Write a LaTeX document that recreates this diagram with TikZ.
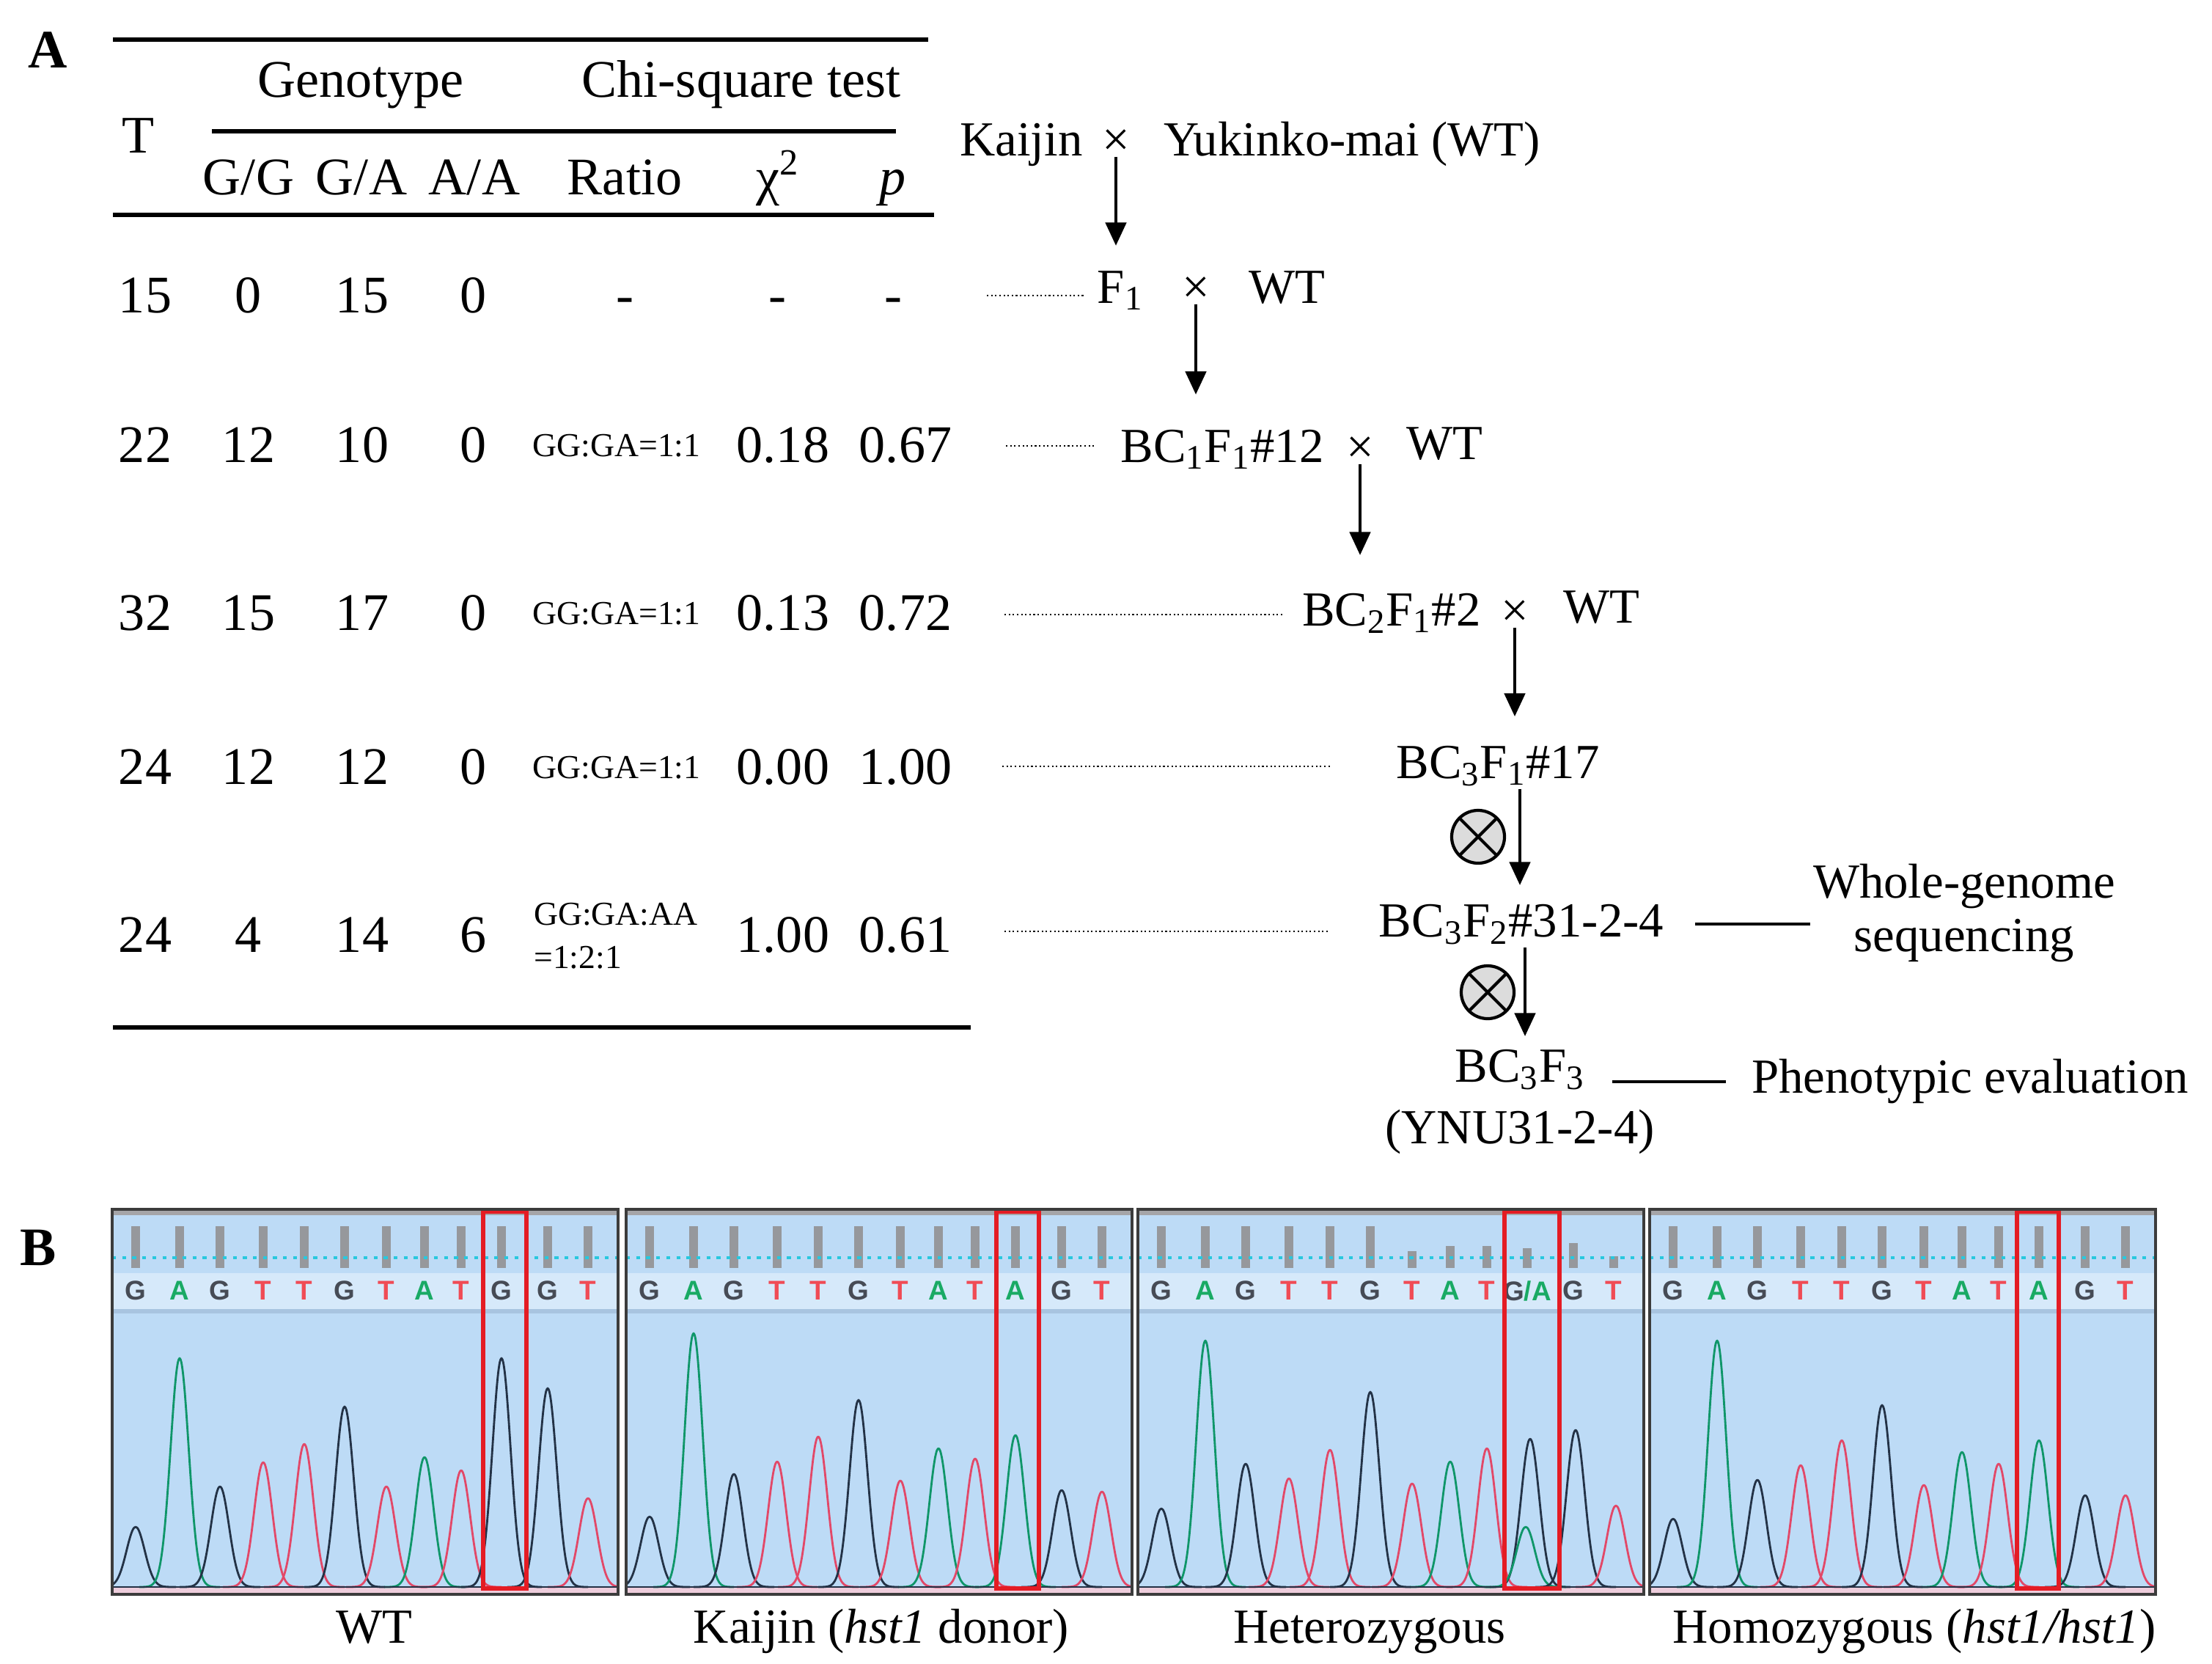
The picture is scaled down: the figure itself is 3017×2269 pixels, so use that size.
\documentclass[tikz,border=0pt]{standalone}
\usepackage{fontspec}
\setmainfont{Liberation Serif}
\setsansfont{Liberation Sans}
\usepackage{tikz}
\usetikzlibrary{
    arrows.meta            % Triangle tips on the pedigree arrows
}
\definecolor{LightGray}{RGB}{220,220,220}
\definecolor{PanelBlue}{RGB}{189,219,246}
\definecolor{BandBlue}{RGB}{214,233,250}
\definecolor{SepBlue}{RGB}{168,196,224}
\definecolor{StripGray}{RGB}{165,165,168}
\definecolor{BarGray}{RGB}{150,152,156}
\definecolor{DotCyan}{RGB}{40,200,222}
\definecolor{BoxRed}{RGB}{228,28,36}
\definecolor{FrameGray}{RGB}{60,60,60}
\definecolor{PinkBand}{RGB}{238,205,220}
\definecolor{trG}{RGB}{35,50,70}
\definecolor{trA}{RGB}{15,150,105}
\definecolor{trT}{RGB}{226,72,104}
\definecolor{lG}{RGB}{70,75,85}
\definecolor{lA}{RGB}{25,170,100}
\definecolor{lT}{RGB}{240,75,85}
\tikzset{table cell/.style={
    anchor=base,
    inner sep=0pt,
    font=\fontsize{20.5}{24}\selectfont
}}
\tikzset{ratio cell/.style={
    anchor=base,
    inner sep=0pt,
    font=\fontsize{13}{16.8}\selectfont
}}
\tikzset{table rule/.style={
    line width=1.6pt
}}
\tikzset{panel tag/.style={
    anchor=base,
    inner sep=0pt,
    font=\bfseries\fontsize{21}{24}\selectfont
}}
\tikzset{gen label/.style={
    anchor=base,
    inner sep=1pt,
    font=\fontsize{19}{22}\selectfont
}}
\tikzset{cross mark/.style={
    inner sep=0pt,
    font=\fontsize{19}{22}\selectfont
}}
\tikzset{gen arrow/.style={
    -{Triangle[width=8pt,length=9pt]},
    line width=1.3pt
}}
\tikzset{dot leader/.style={
    densely dotted,
    line width=0.6pt
}}
\tikzset{lead line/.style={
    line width=1.3pt
}}
\tikzset{selfing/.style={
    circle,
    draw,
    line width=1.2pt,
    fill=LightGray,
    minimum size=0.72cm,
    inner sep=0pt,
    path picture={
        \draw[line width=1.2pt] (path picture bounding box.north west) -- (path picture bounding box.south east);
        \draw[line width=1.2pt] (path picture bounding box.north east) -- (path picture bounding box.south west);
    }
}}
\tikzset{base letter/.style={
    inner sep=0pt,
    font=\sffamily\bfseries\fontsize{10.5}{10.5}\selectfont
}}
\tikzset{seq bar/.style={draw=BarGray, line width=3.3pt}}
\tikzset{cyan dots/.style={draw=DotCyan, line width=1pt, dash pattern=on 1.5pt off 2.4pt}}
\tikzset{trace/.style={line width=0.8pt, line join=round}}
\tikzset{base trace/.style={draw=trG, line width=0.7pt}}
\tikzset{snp box/.style={draw=BoxRed, line width=1.5pt}}
\tikzset{panel frame/.style={draw=FrameGray, line width=1pt}}

% sequence G A G T T G T A T [x] G T, x = 531
\newcommand{\seqlist}{32/G,92/A,147/G,206/T,262/T,317/G,374/T,426/A,476/T,594/G,649/T}
\newcommand{\fullbars}{32/1672,92/1672,147/1672,206/1672,262/1672,317/1672,374/1672,426/1672,476/1672,531/1672,594/1672,649/1672}
\newcommand{\hetbars}{32/1672,92/1672,147/1672,206/1672,262/1672,317/1672,374/1706,426/1699,476/1699,531/1702,594/1695,649/1713}
\newcommand{\peaksWT}{32/82/G,92/312/A,147/137/G,206/170/T,262/195/T,317/246/G,374/137/T,426/177/A,476/159/T,531/312/G,594/271/G,649/121/T}
\newcommand{\peaksKai}{32/96/G,92/346/A,147/154/G,206/171/T,262/205/T,317/255/G,374/145/T,426/189/A,476/175/T,531/207/A,594/132/G,649/130/T}
\newcommand{\peaksHet}{32/107/G,92/336/A,147/168/G,206/148/T,262/187/T,317/266/G,374/141/T,426/171/A,476/189/T,535/202/G,529/82/A,597/214/G,652/111/T}
\newcommand{\peaksHom}{32/93/G,92/336/A,147/146/G,206/166/T,262/200/T,317/248/G,374/139/T,426/184/A,476/168/T,531/200/A,594/125/G,649/125/T}

% #1 left edge, #2 name, #3 letter at the SNP, #4 peaks, #5 bars, #6/#7 red box
\newcommand{\chromat}[7]{%
  \begin{scope}[shift={(#1,0)}]
    \fill[PanelBlue] (0,1649) rectangle (690,2174);
    \fill[BandBlue] (0,1736) rectangle (690,1785);
    \fill[SepBlue] (0,1785) rectangle (690,1791);
    \fill[StripGray] (0,1649) rectangle (690,1657);
    \foreach \px/\pt in #5 {\draw[seq bar] (\px,\pt) -- (\px,1729);}
    \draw[cyan dots] (0,1715) -- (690,1715);
    \foreach \px/\pb in \seqlist {\node[base letter, text=l\pb] (#2-\px) at (\px,1760) {\pb};}
    \node[base letter] (#2-snp) at (531,1760) {#3};
    \fill[PinkBand] (0,2164) rectangle (690,2172);
    \begin{scope}
      \clip (0,1649) rectangle (690,2174);
      \foreach \px/\ph/\pb in #4 {
        \draw[trace, draw=tr\pb] plot[domain=\px-55:\px+55, samples=51, smooth]
          (\x, {2164-\ph*exp(-((\x-\px)/17.5)*((\x-\px)/17.5))});
      }
    \end{scope}
    \draw[base trace] (0,2164) -- (690,2164);
    \draw[snp box] (#6,1652) rectangle (#7,2166);
    \draw[panel frame] (0,1649) rectangle (690,2174);
  \end{scope}}

\begin{document}
\begin{tikzpicture}[x=0.01cm, y=-0.01cm]
    \useasboundingbox (0,0) rectangle (3017,2269);

    % panel A, segregation table
    \node[panel tag] (tagA) at (65,92) {A};
    \draw[table rule] (154,54) -- (1266,54);
    \draw[table rule] (289,179) -- (1222,179);
    \draw[table rule] (154,293) -- (1274,293);
    \draw[table rule] (154,1401) -- (1324,1401);

    \node[table cell] (hdrT) at (189,208) {T};
    \node[table cell] (hdrGeno) at (492,132) {Genotype};
    \node[table cell] (hdrChi) at (1011,132) {Chi-square test};
    \node[table cell] (hdrGG) at (339,265) {G/G};
    \node[table cell] (hdrGA) at (493,265) {G/A};
    \node[table cell] (hdrAA) at (647,265) {A/A};
    \node[table cell] (hdrRatio) at (852,265) {Ratio};
    \node[table cell] (hdrChiSq) at (1061,265) {χ\textsuperscript{2}};
    \node[table cell] (hdrP) at (1218,265) {\textit{p}};

    \node[table cell] (T1) at (198,426) {15};
    \node[table cell] (GG1) at (339,426) {0};
    \node[table cell] (GA1) at (494,426) {15};
    \node[table cell] (AA1) at (646,426) {0};
    \node[table cell] (R1) at (852,426) {-};
    \node[table cell] (C1) at (1060,426) {-};
    \node[table cell] (P1) at (1218,426) {-};
    \foreach \rw/\yb/\nt/\ngg/\nga/\naa/\chisq/\pv in
        {2/630/22/12/10/0/0.18/0.67, 3/859/32/15/17/0/0.13/0.72,
         4/1069/24/12/12/0/0.00/1.00, 5/1298/24/4/14/6/1.00/0.61}{
      \node[table cell] (T\rw) at (198,\yb) {\nt};
      \node[table cell] (GG\rw) at (339,\yb) {\ngg};
      \node[table cell] (GA\rw) at (494,\yb) {\nga};
      \node[table cell] (AA\rw) at (646,\yb) {\naa};
      \node[table cell] (C\rw) at (1068,\yb) {\chisq};
      \node[table cell] (P\rw) at (1235,\yb) {\pv};
    }
    \node[ratio cell] (R2) at (841,622) {GG:GA=1:1};
    \node[ratio cell] (R3) at (841,851) {GG:GA=1:1};
    \node[ratio cell] (R4) at (841,1061) {GG:GA=1:1};
    \node[ratio cell, anchor=center, align=left] (R5) at (840,1276) {GG:GA:AA\\=1:2:1};

    % backcross pedigree
    \node[gen label] (kaijin) at (1393,212) {Kaijin};
    \node[cross mark] (x0) at (1522,195) {×};
    \node[gen label] (yuki) at (1844,212) {Yukinko-mai (WT)};
    \node[gen label] (f1) at (1528,413) {F\textsubscript{1}};
    \node[cross mark] (x1) at (1631,396) {×};
    \node[gen label] (wt1) at (1755,413) {WT};
    \node[gen label] (bc1) at (1667,630) {BC\textsubscript{1}F\textsubscript{1}\#12};
    \node[cross mark] (x2) at (1855,614) {×};
    \node[gen label] (wt2) at (1970,626) {WT};
    \node[gen label] (bc2) at (1898,853) {BC\textsubscript{2}F\textsubscript{1}\#2};
    \node[cross mark] (x3) at (2066,837) {×};
    \node[gen label] (wt3) at (2184,849) {WT};
    \node[gen label] (bc3a) at (2043,1061) {BC\textsubscript{3}F\textsubscript{1}\#17};
    \node[gen label] (bc3b) at (2075,1277) {BC\textsubscript{3}F\textsubscript{2}\#31-2-4};
    \node[gen label] (bc3c) at (2073,1475) {BC\textsubscript{3}F\textsubscript{3}};
    \node[gen label] (ynu) at (2073,1559) {(YNU31-2-4)};
    \node[gen label, anchor=center, align=center, font=\fontsize{19}{20.7}\selectfont] (wgs) at (2679,1245) {Whole-genome\\sequencing};
    \node[gen label] (pheno) at (2687,1490) {Phenotypic evaluation};
    \node[selfing] (self1) at (2016,1141) {};
    \node[selfing] (self2) at (2029,1353) {};

    \coordinate (a1) at (1522,335);
    \coordinate (a2) at (1631,538);
    \coordinate (a3) at (1855,757);
    \coordinate (a4) at (2066,977);
    \coordinate (a5) at (2073,1207);
    \coordinate (a6) at (2080,1413);
    \draw[gen arrow] (x0) -- (a1);
    \draw[gen arrow] (x1) -- (a2);
    \draw[gen arrow] (x2) -- (a3);
    \draw[gen arrow] (x3) -- (a4);
    \draw[gen arrow] (bc3a.south -| a5) -- (a5);
    \draw[gen arrow] (bc3b.south -| a6) -- (a6);

    % dotted leaders from the table rows
    \coordinate (d1a) at (1346,403);  \coordinate (d1b) at (1478,403);
    \coordinate (d2a) at (1372,608);  \coordinate (d2b) at (1492,608);
    \coordinate (d3a) at (1370,838);  \coordinate (d3b) at (1752,838);
    \coordinate (d4a) at (1367,1045); \coordinate (d4b) at (1815,1045);
    \coordinate (d5a) at (1370,1270); \coordinate (d5b) at (1814,1270);
    \foreach \i in {1,...,5} \draw[dot leader] (d\i a) -- (d\i b);

    \draw[lead line, shorten <=11pt] (bc3b.east) -- (bc3b.east -| wgs.west);
    \draw[lead line, shorten <=9.4pt, shorten >=8.8pt] (bc3c.base east) -- (bc3c.base east -| pheno.west);

    % panel B, chromatograms
    \node[panel tag] (tagB) at (52,1725) {B};
    \chromat{153}{wt}{\color{lG}G}{\peaksWT}{\fullbars}{506}{565}
    \chromat{854}{kai}{\color{lA}A}{\peaksKai}{\fullbars}{505}{563}
    \chromat{1552}{het}{{\color{lG}G}{\color{lA}/A}}{\peaksHet}{\hetbars}{500}{575}
    \chromat{2250}{hom}{\color{lA}A}{\peaksHom}{\fullbars}{501}{558}

    \node[gen label] (lblWT) at (510,2240) {WT};
    \node[gen label] (lblKai) at (1202,2240) {Kaijin (\textit{hst1} donor)};
    \node[gen label] (lblHet) at (1868,2240) {Heterozygous};
    \node[gen label] (lblHom) at (2611,2240) {Homozygous (\textit{hst1/hst1})};
\end{tikzpicture}
\end{document}
